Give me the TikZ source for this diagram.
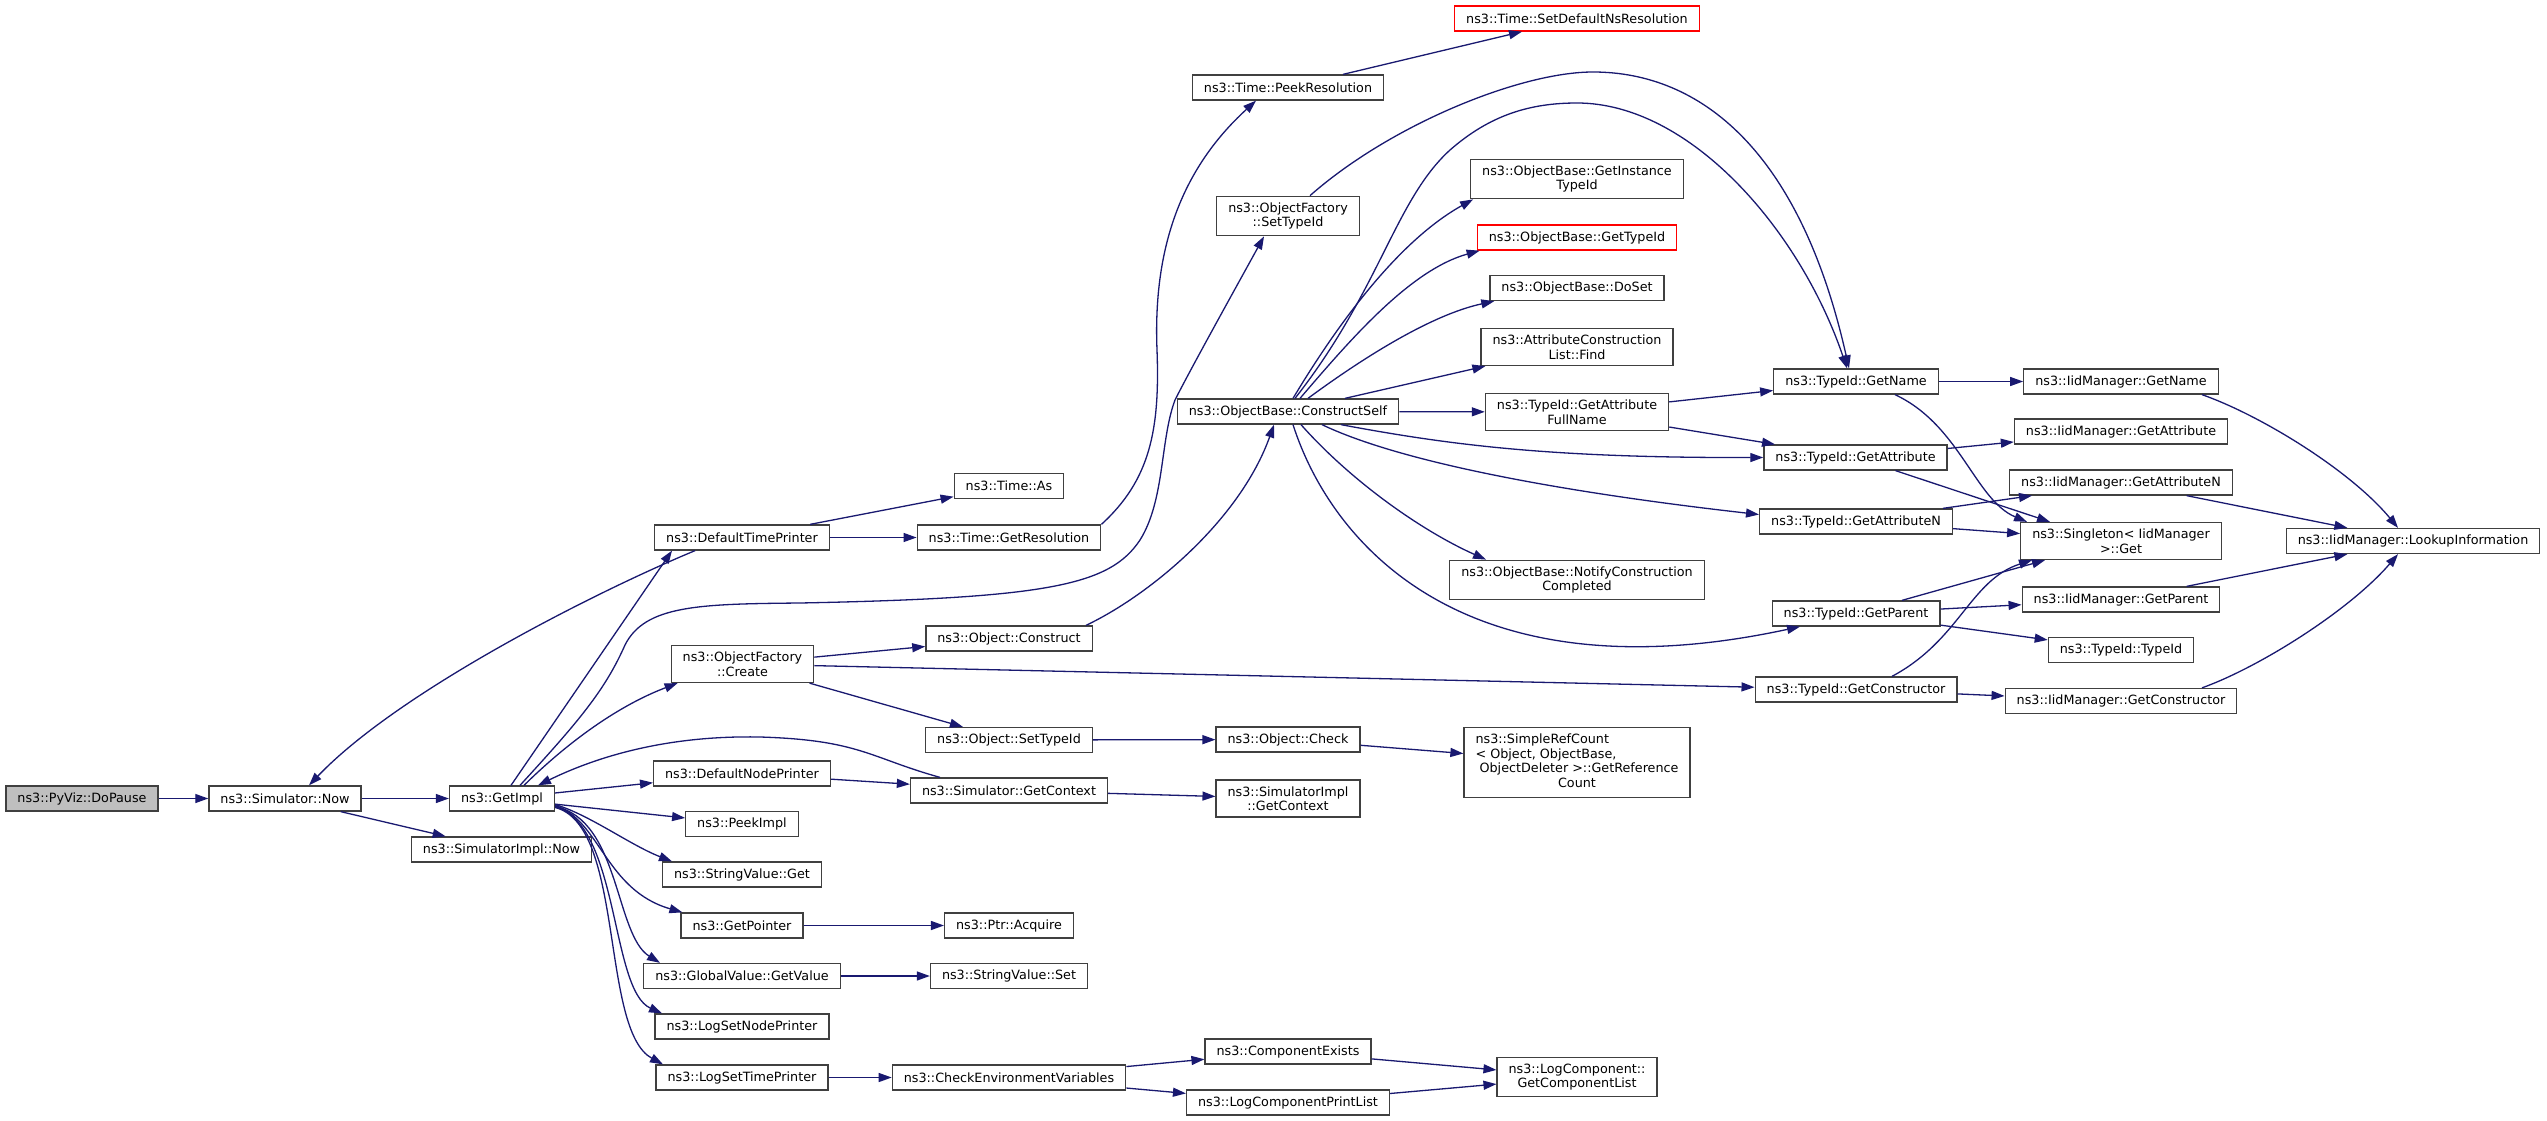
\documentclass[tikz,border=0pt]{standalone}
\usepackage{fontspec}
\setmainfont{DejaVu Sans}
\usepackage{tikz}
\usetikzlibrary{arrows.meta}

\definecolor{edgeblue}{HTML}{191970}
\definecolor{boxgrey}{HTML}{404040}
\definecolor{rootfill}{HTML}{BFBFBF}
\newcommand{\graphfont}{\fontsize{12.75}{14.5}\selectfont}

\tikzset{
    fn/.style={draw=boxgrey, line width=1.3pt, fill=white, inner xsep=11.5pt,
        inner ysep=6.3pt, minimum height=25pt, align=center, font=\graphfont},
    root/.style={fn, fill=rootfill},
    undoc/.style={fn, draw=red},
    call/.style={draw=edgeblue, line width=1.3pt, -{Triangle[length=13pt,width=9pt]}}
}

\begin{document}
\begin{tikzpicture}[x=1pt, y=-1pt]
    % Canvas
    \fill[white] (0,0) rectangle (2547,1121);
    \useasboundingbox (0,0) rectangle (2547,1121);

    % Caller chain
    \node[root] (dopause) at (82,798.5) {ns3::PyViz::DoPause};
    \node[fn] (simnow) at (285,798.5) {ns3::Simulator::Now};
    \node[fn] (getimpl) at (502,798.5) {ns3::GetImpl};
    \node[fn] (implnow) at (501.5,849.5) {ns3::SimulatorImpl::Now};

    % Column called by GetImpl
    \node[fn] (deftime) at (742,537.5) {ns3::DefaultTimePrinter};
    \node[fn] (ofcreate) at (742.5,664) {ns3::ObjectFactory\\::Create};
    \node[fn] (defnode) at (742,773.5) {ns3::DefaultNodePrinter};
    \node[fn] (peekimpl) at (742,824) {ns3::PeekImpl};
    \node[fn] (strget) at (742,874.5) {ns3::StringValue::Get};
    \node[fn] (getptr) at (742,925.5) {ns3::GetPointer};
    \node[fn] (gvget) at (742,976) {ns3::GlobalValue::GetValue};
    \node[fn] (lognode) at (742,1026.5) {ns3::LogSetNodePrinter};
    \node[fn] (logtime) at (742,1077.5) {ns3::LogSetTimePrinter};

    % Next column
    \node[fn] (timeas) at (1009,486) {ns3::Time::As};
    \node[fn] (getres) at (1009,537.5) {ns3::Time::GetResolution};
    \node[fn] (objconstruct) at (1009,638.5) {ns3::Object::Construct};
    \node[fn] (objsettid) at (1009,740) {ns3::Object::SetTypeId};
    \node[fn] (simctx) at (1009,790.5) {ns3::Simulator::GetContext};
    \node[fn] (acquire) at (1009,925.5) {ns3::Ptr::Acquire};
    \node[fn] (strset) at (1009,976) {ns3::StringValue::Set};
    \node[fn] (checkenv) at (1009,1077.5) {ns3::CheckEnvironmentVariables};

    \node[fn] (peekres) at (1288,87.5) {ns3::Time::PeekResolution};
    \node[fn] (ofsettid) at (1288,216) {ns3::ObjectFactory\\::SetTypeId};
    \node[fn] (cself) at (1288,411.5) {ns3::ObjectBase::ConstructSelf};
    \node[fn] (objcheck) at (1288,739.5) {ns3::Object::Check};
    \node[fn] (implctx) at (1288,798.5) {ns3::SimulatorImpl\\::GetContext};
    \node[fn] (compexists) at (1288,1051.5) {ns3::ComponentExists};
    \node[fn] (printlist) at (1288,1102.5) {ns3::LogComponentPrintList};

    % ObjectBase column
    \node[undoc] (setdefres) at (1577,18.5) {ns3::Time::SetDefaultNsResolution};
    \node[fn] (instancetid) at (1577,179) {ns3::ObjectBase::GetInstance\\TypeId};
    \node[undoc] (obgettid) at (1577,237.5) {ns3::ObjectBase::GetTypeId};
    \node[fn] (doset) at (1577,288) {ns3::ObjectBase::DoSet};
    \node[fn] (aclfind) at (1577,347) {ns3::AttributeConstruction\\List::Find};
    \node[fn] (attrfull) at (1577,412) {ns3::TypeId::GetAttribute\\FullName};
    \node[fn] (notify) at (1577,580) {ns3::ObjectBase::NotifyConstruction\\Completed};
    \node[fn] (refcount) at (1577,762.5) {\begin{tabular}{@{}l@{}}ns3::SimpleRefCount\\
        {< Object, ObjectBase,}\\ \ ObjectDeleter >::GetReference\\
        \multicolumn{1}{@{}c@{}}{Count}\end{tabular}};
    \node[fn] (complist) at (1577,1077) {ns3::LogComponent::\\GetComponentList};

    % TypeId column
    \node[fn] (tidname) at (1856,381.5) {ns3::TypeId::GetName};
    \node[fn] (tidattr) at (1855.5,457.5) {ns3::TypeId::GetAttribute};
    \node[fn] (tidattrn) at (1856,521.5) {ns3::TypeId::GetAttributeN};
    \node[fn] (tidparent) at (1856,613.5) {ns3::TypeId::GetParent};
    \node[fn] (tidctor) at (1856,689.5) {ns3::TypeId::GetConstructor};

    % IidManager column
    \node[fn] (iidname) at (2121,381.5) {ns3::IidManager::GetName};
    \node[fn] (iidattr) at (2121,431.5) {ns3::IidManager::GetAttribute};
    \node[fn] (iidattrn) at (2121,482.5) {ns3::IidManager::GetAttributeN};
    \node[fn] (singleton) at (2121,541) {ns3::Singleton< IidManager\\>::Get};
    \node[fn] (iidparent) at (2121,599.5) {ns3::IidManager::GetParent};
    \node[fn] (tidtid) at (2121,650) {ns3::TypeId::TypeId};
    \node[fn] (iidctor) at (2121,701) {ns3::IidManager::GetConstructor};
    \node[fn] (lookup) at (2413,541) {ns3::IidManager::LookupInformation};

    % Calls from the caller chain
    \draw[call] (dopause) -- (simnow);
    \draw[call] (simnow) -- (getimpl);
    \draw[call] (simnow) -- (implnow);

    % Calls from GetImpl
    \draw[call] ([xshift=9pt]getimpl.north) -- ([xshift=-70pt]deftime.south);
    \draw[call] ([xshift=18pt]getimpl.north) .. controls (580,720) and (605,690) .. (625,645)
        .. controls (645,605) and (700,604) .. (800,603)
        .. controls (1050,598) and (1110,585) .. (1140,540)
        .. controls (1165,500) and (1160,440) .. (1175,400)
        .. controls (1190,370) and (1240,280) .. ([xshift=-24pt]ofsettid.south);
    \draw[call] ([xshift=22pt]getimpl.north) .. controls (570,740) and (620,705) .. ([xshift=7pt]ofcreate.south west);
    \draw[call] (getimpl) -- (defnode);
    \draw[call] (getimpl) -- (peekimpl);
    \draw[call] ([yshift=-6pt]getimpl.east) .. controls (590,815) and (630,845) .. ([xshift=-70pt]strget.north);
    \draw[call] ([yshift=-7pt]getimpl.east) .. controls (600,820) and (605,890) .. ([xshift=2pt]getptr.north west);
    \draw[call] ([yshift=-8pt]getimpl.east) .. controls (620,820) and (615,935) .. ([xshift=-82pt]gvget.north);
    \draw[call] ([yshift=-8pt]getimpl.east) .. controls (620,825) and (610,990) .. ([xshift=-80pt]lognode.north);
    \draw[call] ([yshift=-9pt]getimpl.east) .. controls (625,825) and (600,1030) .. ([xshift=-79pt]logtime.north);

    % Printers and time
    \draw[call] ([xshift=-47pt]deftime.south) .. controls (600,590) and (400,690) .. ([xshift=24pt]simnow.north);
    \draw[call] (deftime) -- (timeas);
    \draw[call] (deftime) -- (getres);
    \draw[call] (getres.north east) .. controls (1150,480) and (1160,430) .. (1157,350)
        .. controls (1153,250) and (1180,170) .. ([xshift=-32pt]peekres.south);
    \draw[call] (peekres) -- (setdefres);
    \draw[call] (defnode) -- (simctx);
    \draw[call] (simctx) -- (implctx);
    \draw[call] ([xshift=-69pt]simctx.north) .. controls (870,758) and (860,740) .. (760,737)
        .. controls (660,735) and (590,760) .. ([xshift=36pt]getimpl.north);

    % Object factory
    \draw[call] (ofcreate) -- (objconstruct);
    \draw[call] (ofcreate) -- (objsettid);
    \draw[call] (ofcreate) -- (tidctor);
    \draw[call] ([xshift=77pt]objconstruct.north) .. controls (1150,595) and (1240,520) .. ([xshift=-14pt]cself.south);
    \draw[call] (objsettid) -- (objcheck);
    \draw[call] (objcheck) -- (refcount);
    \draw[call] ([xshift=22pt]ofsettid.north) .. controls (1390,125) and (1520,72) .. (1593,72)
        .. controls (1700,72) and (1800,150) .. ([xshift=-7pt]tidname.north);

    % Values and logging
    \draw[call] (getptr) -- (acquire);
    \draw[call] (gvget) -- (strset);
    \draw[call] (logtime) -- (checkenv);
    \draw[call] (checkenv) -- (compexists);
    \draw[call] (checkenv) -- (printlist);
    \draw[call] (compexists) -- (complist);
    \draw[call] (printlist) -- (complist);

    % Calls from ConstructSelf
    \draw[call] ([xshift=7pt]cself.north) .. controls (1380,290) and (1395,200) .. (1450,150)
        .. controls (1490,115) and (1530,103) .. (1577,103)
        .. controls (1690,103) and (1800,230) .. ([xshift=-9pt]tidname.north);
    \draw[call] ([xshift=5pt]cself.north) .. controls (1340,320) and (1400,240) .. ([xshift=3pt]instancetid.south west);
    \draw[call] ([xshift=12pt]cself.north) .. controls (1350,340) and (1410,270) .. ([xshift=3pt]obgettid.south west);
    \draw[call] ([xshift=20pt]cself.north) .. controls (1360,360) and (1430,315) .. ([xshift=5pt]doset.south west);
    \draw[call] ([xshift=57pt]cself.north) -- ([xshift=5pt]aclfind.south west);
    \draw[call] (cself) -- (attrfull);
    \draw[call] ([xshift=53pt]cself.south) .. controls (1450,445) and (1550,458) .. (tidattr.west);
    \draw[call] ([xshift=34pt]cself.south) .. controls (1400,462) and (1560,492) .. ([yshift=7pt]tidattrn.west);
    \draw[call] ([xshift=13pt]cself.south) .. controls (1350,480) and (1420,530) .. ([xshift=-91pt]notify.north);
    \draw[call] ([xshift=5pt]cself.south) .. controls (1330,540) and (1460,700) .. ([xshift=-56pt]tidparent.south);
    \draw[call] (attrfull) -- (tidname);
    \draw[call] (attrfull) -- (tidattr);

    % TypeId to IidManager
    \draw[call] (tidname) -- (iidname);
    \draw[call] ([xshift=39pt]tidname.south) .. controls (1960,425) and (1975,500) .. ([xshift=-94pt]singleton.north);
    \draw[call] (tidattr) -- (iidattr);
    \draw[call] ([xshift=40pt]tidattr.south) -- ([xshift=-71pt]singleton.north);
    \draw[call] ([xshift=87pt]tidattrn.north) -- ([xshift=-89pt]iidattrn.south);
    \draw[call] (tidattrn) -- (singleton);
    \draw[call] ([xshift=46pt]tidparent.north) -- ([xshift=-76pt]singleton.south);
    \draw[call] (tidparent) -- (iidparent);
    \draw[call] (tidparent) -- (tidtid);
    \draw[call] ([xshift=36pt]tidctor.north) .. controls (1960,640) and (1970,580) .. ([xshift=-89pt]singleton.south);
    \draw[call] (tidctor) -- (iidctor);

    % Lookup
    \draw[call] ([xshift=81pt]iidname.south) .. controls (2260,415) and (2350,470) .. ([xshift=-15pt]lookup.north);
    \draw[call] (iidattrn) -- (lookup);
    \draw[call] (iidparent) -- (lookup);
    \draw[call] ([xshift=81pt]iidctor.north) .. controls (2260,667) and (2350,610) .. ([xshift=-15pt]lookup.south);
\end{tikzpicture}
\end{document}
